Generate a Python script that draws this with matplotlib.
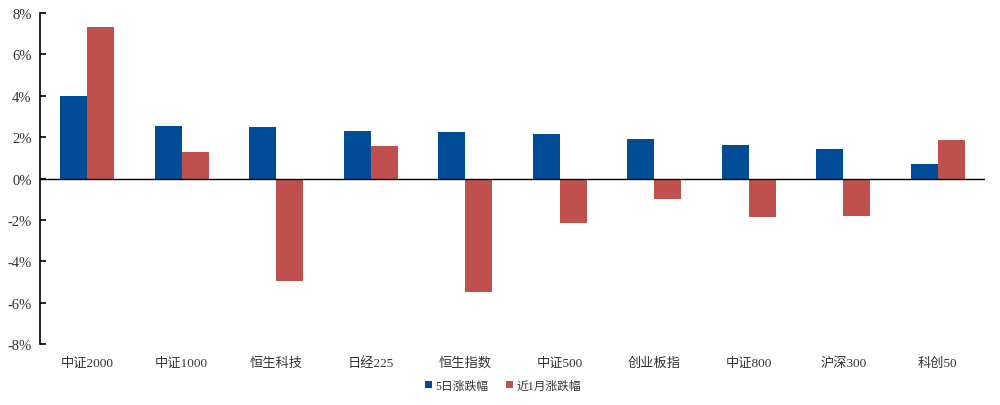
import numpy as np
import matplotlib.pyplot as plt
from matplotlib.ticker import FuncFormatter

plt.rcParams['font.family'] = ['Liberation Serif', 'Noto Sans CJK SC', 'DejaVu Sans']

names = ['中证2000', '中证1000', '恒生科技', '日经225', '恒生指数',
         '中证500', '创业板指', '中证800', '沪深300', '科创50']
chg_5d = [4.01, 2.56, 2.51, 2.32, 2.27, 2.17, 1.93, 1.64, 1.45, 0.68]
chg_1m = [7.34, 1.30, -4.93, 1.59, -5.46, -2.17, -1.01, -1.88, -1.79, 1.84]

blue = '#004C97'
red = '#C0504D'

fig = plt.figure(figsize=(10, 4.06), dpi=100)
ax = fig.add_axes([0.04, 0.15, 0.945, 0.8155])

x = np.arange(len(names))
w = 0.285
ax.bar(x - w / 2, chg_5d, w, color=blue, label='5日涨跌幅', zorder=2)
ax.bar(x + w / 2, chg_1m, w, color=red, label='近1月涨跌幅', zorder=2)

ax.axhline(0, color='black', lw=1, zorder=3)
ax.set_xlim(-0.5, len(names) - 0.5)
ax.set_ylim(-8, 8)
ax.set_yticks(np.arange(-8, 9, 2))
ax.yaxis.set_major_formatter(FuncFormatter(lambda v, p: f'{v:.0f}%'))
ax.set_xticks(x)
ax.set_xticklabels(names)

for s in ['top', 'right', 'bottom']:
    ax.spines[s].set_visible(False)
ax.spines['left'].set_linewidth(1.2)
ax.tick_params(axis='y', direction='in', length=4, width=1.2,
               labelsize=10.5, labelcolor='#333333', pad=6)
ax.tick_params(axis='x', length=0, labelsize=9.5, labelcolor='#333333', pad=9)

ax.legend(loc='upper center', bbox_to_anchor=(0.49, -0.075), ncol=2,
          frameon=False, fontsize=8.5, handlelength=0.6, handleheight=0.6,
          handletextpad=0.3, columnspacing=1.5, labelcolor='#333333')

fig.savefig('out.png', dpi=100)
